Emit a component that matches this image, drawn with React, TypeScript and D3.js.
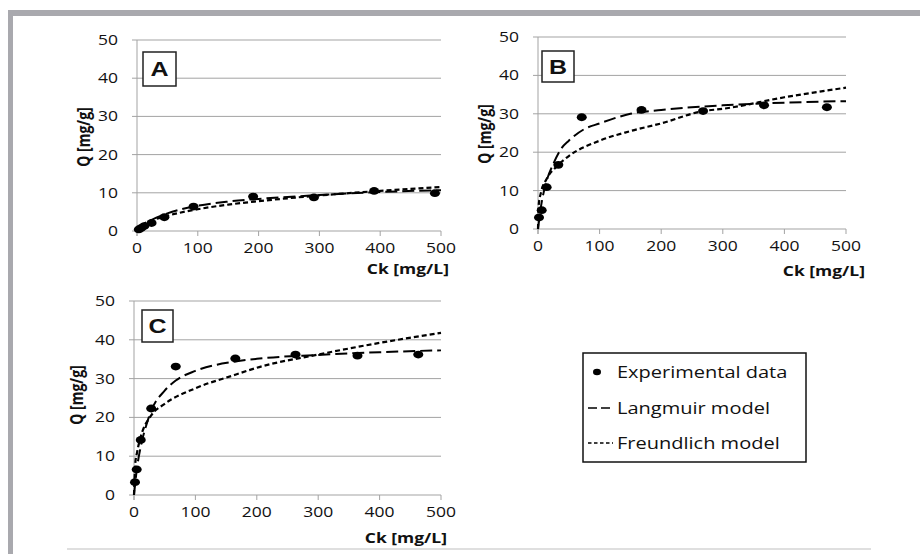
import * as d3 from "d3";
import React from "react";

// experimental points [Ck, Q]
const expA: [number, number][] = [
  [3, 0.4], [7, 0.8], [12, 1.3], [24, 2.1], [45, 3.6], [93, 6.4],
  [191, 9.0], [291, 8.8], [390, 10.5], [490, 9.9],
];
const expB: [number, number][] = [
  [1.6, 3.0], [6, 4.9], [14, 10.9], [33, 16.7], [71, 29.1],
  [168, 31.0], [268, 30.7], [367, 32.2], [469, 31.7],
];
const expC: [number, number][] = [
  [1.6, 3.3], [4.4, 6.6], [11, 14.2], [28, 22.3], [68, 33.1],
  [165, 35.2], [263, 36.2], [364, 35.9], [463, 36.2],
];

// model curves
const langA: [number, number][] = [
  [0, 0], [5, 0.8], [10, 1.5], [25, 3.0], [50, 4.6], [100, 6.6],
  [150, 7.7], [200, 8.4], [300, 9.4], [400, 10.2], [500, 10.7],
];
const freuA: [number, number][] = [
  [0, 0], [5, 1.3], [10, 1.8], [25, 2.8], [50, 4.0], [100, 5.7],
  [150, 6.9], [200, 7.8], [300, 9.3], [400, 10.5], [500, 11.5],
];
const langB: [number, number][] = [
  [0, 0], [5, 6], [14, 12.5], [25, 17], [38, 21], [50, 23], [75, 26],
  [100, 27.5], [150, 30], [200, 31], [300, 32.2], [400, 32.9], [500, 33.3],
];
const freuB: [number, number][] = [
  [0, 0], [1, 6], [5, 9.6], [14, 13], [33, 16.7], [50, 19], [100, 23],
  [150, 25.5], [200, 27.5], [268, 30.7], [300, 31.3], [400, 34.3], [500, 36.8],
];
const langC: [number, number][] = [
  [0, 0], [5, 7.1], [11, 12.5], [20, 18], [28, 21.7], [50, 26.9], [68, 29.5],
  [100, 32], [165, 34.4], [200, 35.1], [300, 36.1], [400, 36.8], [500, 37.3],
];
const freuC: [number, number][] = [
  [0, 0], [2, 8], [5, 11], [11, 15], [28, 20.5], [50, 23.5], [100, 27.5],
  [165, 31], [200, 32.8], [300, 36.2], [400, 39.2], [500, 41.8],
];

const xTicks = [0, 100, 200, 300, 400, 500];
const yTicks = [0, 10, 20, 30, 40, 50];
const xTitle = "Ck [mg/L]";
const yTitle = "Q [mg/g]";
const legendLabels = ["Experimental data", "Langmuir model", "Freundlich model"];

const SX = 1.25; // the original picture is stretched sideways
const FONT = "'Open Sans', sans-serif";
const GRID = "#a3a3a3";

const panels = [
  {
    id: "A", exp: expA, lang: langA, freu: freuA,
    x0: 137, x1: 441, y0: 231, y1: 40,
    box: [143, 52, 33, 34], yLab: [84, 137], xLab: [449, 274],
  },
  {
    id: "B", exp: expB, lang: langB, freu: freuB,
    x0: 538, x1: 846, y0: 229, y1: 37,
    box: [542, 51, 32, 31], yLab: [485, 134], xLab: [865, 276],
  },
  {
    id: "C", exp: expC, lang: langC, freu: freuC,
    x0: 134, x1: 441, y0: 495, y1: 301,
    box: [142, 310, 31, 32], yLab: [77, 395], xLab: [447, 543],
  },
];

function SText(props: any) {
  const { x, y, rotate, children, ...rest } = props;
  return (
    <text
      transform={`translate(${x},${y}) scale(${SX},1)${rotate ? ` rotate(${rotate})` : ""}`}
      {...rest}
    >
      {children}
    </text>
  );
}

function Panel({ p }: { p: any }) {
  const x = d3.scaleLinear().domain([0, 500]).range([p.x0, p.x1]);
  const y = d3.scaleLinear().domain([0, 50]).range([p.y0, p.y1]);
  const line = d3
    .line<[number, number]>()
    .x((d) => x(d[0]))
    .y((d) => y(d[1]))
    .curve(d3.curveMonotoneX);
  const [bx, by, bw, bh] = p.box;
  return (
    <g>
      {yTicks.map((t) => (
        <g key={"y" + t}>
          <line x1={x(0) - 5} x2={x(500)} y1={y(t)} y2={y(t)} stroke={GRID} strokeWidth={1} />
          <SText x={x(0) - 19} y={y(t)} dy="0.36em" textAnchor="end" fontFamily={FONT} fontSize={14} fill="#111">
            {t}
          </SText>
        </g>
      ))}
      <line x1={x(0)} x2={x(0)} y1={y(50)} y2={y(0) + 5} stroke={GRID} strokeWidth={1} />
      {xTicks.map((t) => (
        <g key={"x" + t}>
          <line x1={x(t)} x2={x(t)} y1={y(0)} y2={y(0) + 5} stroke={GRID} strokeWidth={1} />
          <SText x={x(t)} y={y(0) + 22} textAnchor="middle" fontFamily={FONT} fontSize={14} fill="#111">
            {t}
          </SText>
        </g>
      ))}
      <SText x={p.xLab[0]} y={p.xLab[1]} textAnchor="end" fontFamily={FONT} fontWeight="bold" fontSize={14} fill="#111">
        {xTitle}
      </SText>
      <SText x={p.yLab[0]} y={p.yLab[1]} rotate={-90} textAnchor="middle" dy="0.36em" fontFamily={FONT} fontWeight="bold" fontSize={14} fill="#111">
        {yTitle}
      </SText>
      <rect x={bx} y={by} width={bw} height={bh} fill="#fff" stroke="#222" strokeWidth={1.5} />
      <SText x={bx + bw / 2} y={by + bh / 2} dy="0.36em" textAnchor="middle" fontFamily="'Liberation Sans', Arial, sans-serif" fontWeight="bold" fontSize={20} fill="#111">
        {p.id}
      </SText>
      <path d={line(p.freu) || ""} fill="none" stroke="#000" strokeWidth={2.2} strokeDasharray="5,3" />
      <path d={line(p.lang) || ""} fill="none" stroke="#000" strokeWidth={2} strokeDasharray="12,5" />
      {p.exp.map((d: [number, number], i: number) => (
        <ellipse key={i} cx={x(d[0])} cy={y(d[1])} rx={5} ry={3.9} fill="#000" />
      ))}
    </g>
  );
}

function Legend() {
  const lx = 583, ly = 353, lw = 223, lh = 109;
  const rows = [372, 408, 443];
  return (
    <g>
      <rect x={lx} y={ly} width={lw} height={lh} fill="#fff" stroke="#111" strokeWidth={1.5} />
      <ellipse cx={597} cy={rows[0]} rx={4} ry={3.3} fill="#000" />
      <line x1={588} x2={613} y1={rows[1]} y2={rows[1]} stroke="#000" strokeWidth={1.5} strokeDasharray="9,4" />
      <line x1={588} x2={613} y1={rows[2]} y2={rows[2]} stroke="#000" strokeWidth={1.5} strokeDasharray="3.5,2.5" />
      {legendLabels.map((t, i) => (
        <SText key={t} x={617} y={rows[i]} dy="0.36em" fontFamily={FONT} fontSize={16} fill="#111">
          {t}
        </SText>
      ))}
    </g>
  );
}

export default function App() {
  return (
    <svg
      width={920}
      height={554}
      style={{ position: "absolute", left: 0, top: 0, background: "#fff" }}
    >
      <rect x={8} y={10} width={912} height={6} fill="#a9a9ae" />
      <rect x={8} y={10} width={5} height={544} fill="#a9a9ae" />
      <line x1={67} x2={871} y1={549} y2={549} stroke="#d4d4d4" strokeWidth={1.5} />
      {panels.map((p) => (
        <Panel key={p.id} p={p} />
      ))}
      <Legend />
    </svg>
  );
}
